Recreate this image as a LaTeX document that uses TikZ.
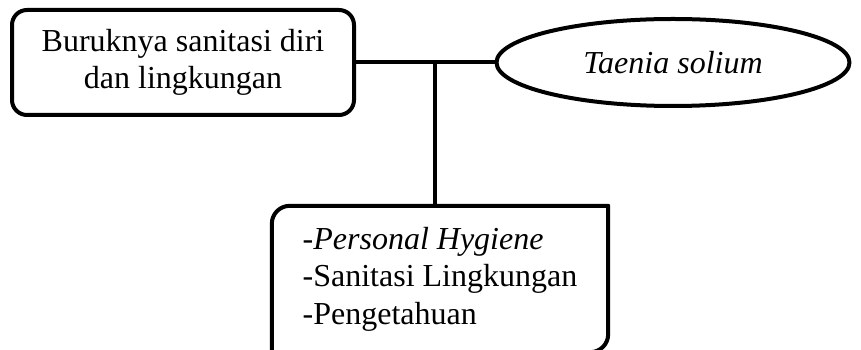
\documentclass[tikz,border=0pt]{standalone}
\usepackage{fontspec}
\setmainfont{Liberation Serif}
\usepackage{tikz}
\usetikzlibrary{shapes.geometric}

\begin{document}
\begin{tikzpicture}[x=1pt, y=1pt,
		boxline/.style={line width=4pt, line join=round},
		bigtext/.style={font=\fontsize{32}{37.5}\selectfont}]
				% Frame
				\useasboundingbox (0,0) rectangle (861,350);
				
				% Cause box
				\node[boxline, bigtext, draw, rounded corners=15pt, align=center,
					minimum width=342pt, minimum height=105pt, inner sep=0pt]
					(buruk) at (183,287.5) {Buruknya sanitasi diri\\dan lingkungan};
				
				% Agent ellipse
				\node[boxline, bigtext, draw, ellipse, minimum width=353pt, minimum height=87pt, inner sep=0pt]
					(taenia) at (673,287.5) {\itshape Taenia solium};
				
				% Factor box (only two corners rounded)
				\node[bigtext, align=left, minimum width=336pt, minimum height=146pt, inner sep=0pt]
					(faktor) at (440,71) {-\textit{Personal Hygiene}\\-Sanitasi Lingkungan\\-Pengetahuan};
				\draw[boxline] (faktor.south west) -- ([yshift=-18pt]faktor.north west)
					arc[start angle=180, end angle=90, radius=18pt] -- (faktor.north east)
					-- ([yshift=18pt]faktor.south east) arc[start angle=0, end angle=-90, radius=18pt] -- cycle;
				
				% Connectors
				\draw[boxline] (buruk.east) -- (taenia.west);
				\coordinate (junc) at ([xshift=79pt]buruk.east);
				\draw[boxline] (junc) -- (junc |- faktor.north);
				
			\end{tikzpicture}
\end{document}
